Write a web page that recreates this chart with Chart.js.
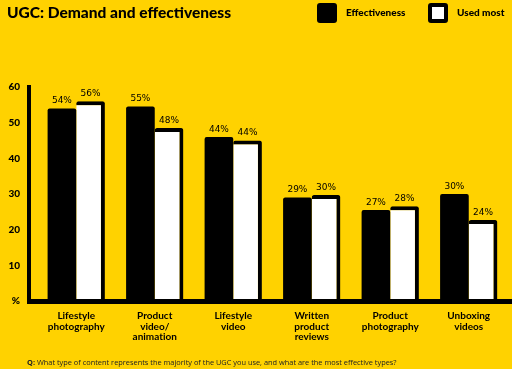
<!DOCTYPE html>
<html>
<head>
<meta charset="utf-8">
<script src="https://cdn.jsdelivr.net/npm/chart.js@4"></script>
<style>
  html, body { margin: 0; padding: 0; }
  body { width: 512px; height: 369px; background: #FFD200; position: relative; overflow: hidden; font-family: Lato, sans-serif; font-variant-ligatures: none; }
  #wrap { position: absolute; left: 0; top: 0; width: 512px; height: 369px; }
  #title { position: absolute; left: 7px; top: 3px; font: 900 15.5px Lato, sans-serif; color: #000; white-space: nowrap; }
  .key { position: absolute; top: 3px; width: 20px; height: 20px; box-sizing: border-box; border-radius: 3px; background: #000; }
  .key.white { background: #fff; border: 4px solid #000; }
  .keytxt { position: absolute; top: 6px; font: 900 10px Lato, sans-serif; color: #000; white-space: nowrap; }
  #note { position: absolute; left: 27px; top: 357px; font: 7.4px "Open Sans", sans-serif; color: #222; white-space: nowrap; }
</style>
</head>
<body>
<div id="wrap"><canvas id="chart" width="512" height="369"></canvas></div>
<div id="title">UGC: Demand and effectiveness</div>
<div class="key" style="left:317px"></div>
<div class="keytxt" style="left:346px">Effectiveness</div>
<div class="key white" style="left:428px"></div>
<div class="keytxt" style="left:457px">Used most</div>
<div id="note"><b>Q:</b> What type of content represents the majority of the UGC you use, and what are the most effective types?</div>
<script>
const categories = [
  ['Lifestyle', 'photography'],
  ['Product', 'video/', 'animation'],
  ['Lifestyle', 'video'],
  ['Written', 'product', 'reviews'],
  ['Product', 'photography'],
  ['Unboxing', 'videos']
];
// bar heights as drawn in the picture
const effectiveness = [54, 54.5, 46, 29, 25.5, 30];
const usedMost = [56, 48.5, 45, 29.7, 26.6, 22.7];
// printed labels above the bars
const effectivenessLabels = ['54%', '55%', '44%', '29%', '27%', '30%'];
const usedMostLabels = ['56%', '48%', '44%', '30%', '28%', '24%'];
const yTicks = [0, 10, 20, 30, 40, 50, 60];

// axis lines sit a little left of the first category
const axisLines = {
  id: 'axisLines',
  afterDatasetsDraw(chart) {
    const { ctx, chartArea } = chart;
    ctx.save();
    ctx.fillStyle = '#000';
    ctx.fillRect(chartArea.left - 10, chartArea.bottom - 2, chart.width - chartArea.left + 10, 5);
    ctx.fillRect(chartArea.left - 10, chartArea.top - 2, 4, chartArea.bottom - chartArea.top + 2);
    ctx.restore();
  }
};

const barLabels = {
  id: 'barLabels',
  afterDatasetsDraw(chart) {
    const { ctx } = chart;
    const texts = [effectivenessLabels, usedMostLabels];
    ctx.save();
    ctx.font = '500 9px "DejaVu Sans", sans-serif';
    ctx.fillStyle = '#000';
    ctx.textAlign = 'center';
    ctx.textBaseline = 'bottom';
    chart.data.datasets.forEach((ds, i) => {
      chart.getDatasetMeta(i).data.forEach((bar, j) => {
        ctx.fillText(texts[i][j], bar.x, bar.y - 3);
      });
    });
    ctx.restore();
  }
};

new Chart(document.getElementById('chart'), {
  type: 'bar',
  data: {
    labels: categories,
    datasets: [
      {
        label: 'Effectiveness',
        data: effectiveness,
        backgroundColor: '#000',
        borderColor: '#000',
        borderWidth: 0,
        borderRadius: 2,
        borderSkipped: 'bottom'
      },
      {
        label: 'Used most',
        data: usedMost,
        backgroundColor: '#fff',
        borderColor: '#000',
        borderWidth: { top: 4, right: 4, left: 0, bottom: 0 },
        borderRadius: 2,
        borderSkipped: 'bottom'
      }
    ]
  },
  options: {
    responsive: false,
    animation: false,
    datasets: { bar: { categoryPercentage: 0.73, barPercentage: 1 } },
    layout: { padding: { top: 87, right: 4, left: 0, bottom: 0 } },
    plugins: {
      legend: { display: false },
      tooltip: { enabled: false }
    },
    scales: {
      x: {
        grid: { display: false, drawTicks: false },
        border: { display: false },
        afterFit(scale) { scale.height = 68; },
        ticks: {
          color: '#000',
          padding: 10,
          maxRotation: 0,
          autoSkip: false,
          font: { family: 'Lato', weight: 'bold', size: 10, lineHeight: 1.05 }
        }
      },
      y: {
        min: 0,
        max: 60,
        afterFit(scale) { scale.width = 37; },
        afterBuildTicks(scale) { scale.ticks = yTicks.map(v => ({ value: v })); },
        grid: { display: false, drawTicks: false },
        border: { display: false },
        ticks: {
          color: '#000',
          padding: 17,
          font: { family: 'Lato', weight: 900, size: 10 },
          callback: v => (v === 0 ? '%' : v)
        }
      }
    }
  },
  plugins: [axisLines, barLabels]
});
</script>
</body>
</html>
